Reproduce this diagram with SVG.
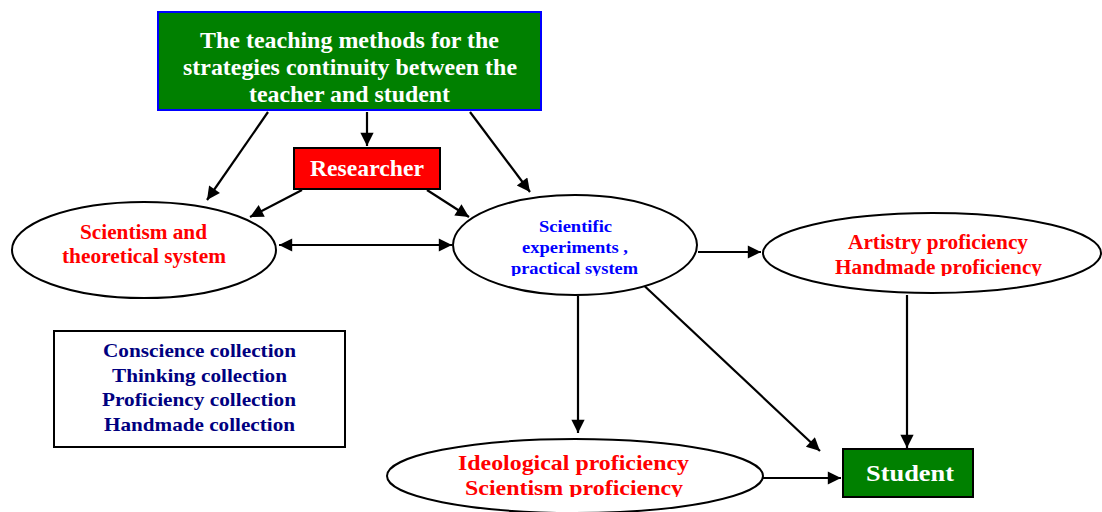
<svg xmlns="http://www.w3.org/2000/svg" width="1102" height="512" viewBox="0 0 1102 512">
<style>
text{font-family:"Liberation Serif","Times New Roman",serif;font-weight:bold;text-anchor:middle}
.w{fill:#fff}.r{fill:#ff0000}.b{fill:#0000ff}.n{fill:#000080}
.ell{fill:#fff;stroke:#000;stroke-width:2}
.edge{stroke:#000;stroke-width:2.2;fill:none;marker-end:url(#ah)}
</style>
<defs>
<marker id="ah" viewBox="0 0 10 10" refX="10" refY="5" markerWidth="7.5" markerHeight="6" markerUnits="strokeWidth" orient="auto-start-reverse">
<path d="M0,0 L10,5 L0,10 z" fill="#000"/>
</marker>
<clipPath id="c1"><rect x="0" y="0" width="1102" height="276"/></clipPath>
<clipPath id="c2"><rect x="0" y="0" width="1102" height="497"/></clipPath>
</defs>
<g id="connectors">
<line class="edge" x1="268" y1="112" x2="207" y2="200"/>
<line class="edge" x1="367" y1="112" x2="367" y2="146"/>
<line class="edge" x1="470" y1="112" x2="530" y2="192"/>
<line class="edge" x1="302" y1="190" x2="250" y2="217"/>
<line class="edge" x1="427" y1="190" x2="469" y2="217"/>
<line class="edge" x1="279" y1="245" x2="452" y2="245" marker-start="url(#ah)"/>
<line class="edge" x1="698" y1="252" x2="761" y2="252"/>
<line class="edge" x1="578" y1="296" x2="578" y2="433"/>
<line class="edge" x1="636" y1="278" x2="820" y2="451"/>
<line class="edge" x1="907" y1="295" x2="907" y2="448"/>
<line class="edge" x1="763" y1="478" x2="841" y2="478"/>
</g>
<g id="top">
<rect x="158" y="12" width="383" height="98" fill="#008000" stroke="#0000ff" stroke-width="2"/>
<g class="w" font-size="22.5">
<text x="349.5" y="48" textLength="299" lengthAdjust="spacingAndGlyphs">The teaching methods for the</text>
<text x="350" y="75" textLength="334" lengthAdjust="spacingAndGlyphs">strategies continuity between the</text>
<text x="349.5" y="102" textLength="201" lengthAdjust="spacingAndGlyphs">teacher and student</text>
</g>
</g>
<g id="researcher">
<rect x="294" y="148" width="146" height="41" fill="#ff0000" stroke="#000" stroke-width="2"/>
<text class="w" font-size="22.5" x="367" y="176" textLength="114" lengthAdjust="spacingAndGlyphs">Researcher</text>
</g>
<g id="scientism">
<ellipse class="ell" cx="144" cy="250" rx="132" ry="48"/>
<g class="r" font-size="20">
<text x="143.5" y="239" textLength="127" lengthAdjust="spacingAndGlyphs">Scientism and</text>
<text x="144" y="263" textLength="164" lengthAdjust="spacingAndGlyphs">theoretical system</text>
</g>
</g>
<g id="experiments">
<ellipse class="ell" cx="575" cy="245" rx="122" ry="50"/>
<g class="b" font-size="16.5" clip-path="url(#c1)">
<text x="575.5" y="232" textLength="73" lengthAdjust="spacingAndGlyphs">Scientific</text>
<text x="575" y="253" textLength="106" lengthAdjust="spacingAndGlyphs">experiments ,</text>
<text x="574.5" y="274" textLength="127" lengthAdjust="spacingAndGlyphs">practical system</text>
</g>
</g>
<g id="artistry">
<ellipse class="ell" cx="932" cy="253" rx="169" ry="40"/>
<g class="r" font-size="20" clip-path="url(#c1)">
<text x="938" y="249" textLength="180" lengthAdjust="spacingAndGlyphs">Artistry proficiency</text>
<text x="938.5" y="274" textLength="207" lengthAdjust="spacingAndGlyphs">Handmade proficiency</text>
</g>
</g>
<g id="ideological">
<ellipse class="ell" cx="575" cy="476" rx="188" ry="37"/>
<g class="r" font-size="21" clip-path="url(#c2)">
<text x="573.5" y="470" textLength="231" lengthAdjust="spacingAndGlyphs">Ideological proficiency</text>
<text x="574" y="495" textLength="218" lengthAdjust="spacingAndGlyphs">Scientism proficiency</text>
</g>
</g>
<g id="student">
<rect x="843" y="449" width="130" height="48" fill="#008000" stroke="#000" stroke-width="2"/>
<text class="w" font-size="23.5" x="910" y="481" textLength="88" lengthAdjust="spacingAndGlyphs">Student</text>
</g>
<g id="collections">
<rect x="54" y="331" width="291" height="116" fill="#fff" stroke="#000" stroke-width="2"/>
<g class="n" font-size="19.5">
<text x="199.5" y="357" textLength="193" lengthAdjust="spacingAndGlyphs">Conscience collection</text>
<text x="199.5" y="382" textLength="175" lengthAdjust="spacingAndGlyphs">Thinking collection</text>
<text x="199" y="406" textLength="194" lengthAdjust="spacingAndGlyphs">Proficiency collection</text>
<text x="199.5" y="431" textLength="191" lengthAdjust="spacingAndGlyphs">Handmade collection</text>
</g>
</g>
</svg>
